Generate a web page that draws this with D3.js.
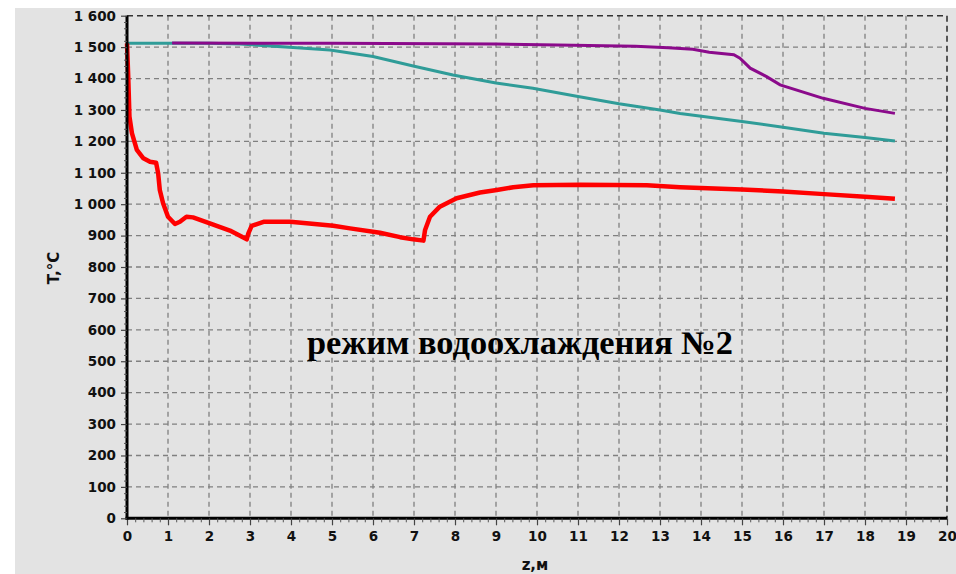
<!DOCTYPE html>
<html><head><meta charset="utf-8">
<script src="https://cdnjs.cloudflare.com/ajax/libs/d3/7.8.5/d3.min.js"></script>
<style>
html,body{margin:0;padding:0;background:#fff;}
svg{display:block;}
</style></head>
<body>
<script>
// ---- data ----
const xTicks = [0,1,2,3,4,5,6,7,8,9,10,11,12,13,14,15,16,17,18,19,20];
const yTicks = [0,100,200,300,400,500,600,700,800,900,1000,1100,1200,1300,1400,1500,1600];
const yTickLabels = ["0","100","200","300","400","500","600","700","800","900","1 000","1 100","1 200","1 300","1 400","1 500","1 600"];
const xTitle = "z,м";
const yTitle = "T,°C";
const annotation = "режим водоохлаждения №2";

const redZ = [0,0.03,0.06,0.12,0.24,0.4,0.56,0.71,0.76,0.80,0.88,1.0,1.17,1.29,1.45,1.61,2.02,2.51,2.92,2.96,3.04,3.33,3.98,4.38,5.03,5.44,6.17,6.66,6.98,7.23,7.27,7.39,7.63,8.04,8.61,9.02,9.42,9.91,11.05,12.68,13.49,15.0,16.0,17.0,18.0,18.73];
const redT = [1512,1406,1279,1226,1173,1146,1135,1132,1098,1045,1003,960,937,944,960,958,939,916,888,907,931,944,944,939,931,923,909,895,888,884,918,960,992,1019,1037,1045,1054,1060,1062,1060,1054,1047,1040,1032,1024,1017];

const tealZ = [0,2.0,2.76,4.05,4.95,6.0,6.98,7.95,9.0,9.9,11,12,13,13.49,15,16,17,18,18.73];
const tealT = [1512,1512,1510,1499,1491,1470,1440,1411,1386,1369,1343,1320,1300,1289,1263,1245,1226,1212,1201];

const purpleZ = [1.1,5,9,10.5,12.4,13.2,13.8,14.2,14.8,14.95,15.2,15.6,15.93,16.98,18.0,18.73];
const purpleT = [1513,1512,1510,1507,1503,1498,1493,1484,1476,1465,1433,1406,1380,1337,1305,1289];

// ---- layout ----
const W = 956, H = 574;
const x0 = 127, x1 = 947, yBot = 518.3, yTop = 15.7;
const svg = d3.select("body").append("svg").attr("width", W).attr("height", H);

svg.append("rect").attr("x",15).attr("y",8).attr("width",W-15).attr("height",H-8).attr("fill","#e3e3e3");

const x = d3.scaleLinear().domain([0,20]).range([x0,x1]);
const y = d3.scaleLinear().domain([0,1600]).range([yBot,yTop]);

const font = "'DejaVu Sans', Verdana, sans-serif";

// grid
const g = svg.append("g");
g.selectAll("line.vx").data(xTicks.filter(d=>d>0&&d<20)).enter().append("line")
  .attr("x1",d=>x(d)).attr("x2",d=>x(d)).attr("y1",yTop).attr("y2",yBot)
  .attr("stroke","#808080").attr("stroke-width",1.3).attr("stroke-dasharray","5,4");
g.selectAll("line.hy").data(yTicks.filter(d=>d>0&&d<1600)).enter().append("line")
  .attr("x1",x0).attr("x2",x1).attr("y1",d=>y(d)).attr("y2",d=>y(d))
  .attr("stroke","#808080").attr("stroke-width",1.3).attr("stroke-dasharray","5,4");
// top and right dashed borders
g.append("line").attr("x1",x0).attr("x2",x1).attr("y1",y(1600)).attr("y2",y(1600))
  .attr("stroke","#333").attr("stroke-width",1.6).attr("stroke-dasharray","6,4");
g.append("line").attr("x1",x(20)).attr("x2",x(20)).attr("y1",yTop).attr("y2",yBot)
  .attr("stroke","#333").attr("stroke-width",1.6).attr("stroke-dasharray","6,4");

// annotation
svg.append("text").attr("x",520).attr("y",354).attr("text-anchor","middle")
  .attr("font-family","'Liberation Serif','Times New Roman',serif").attr("font-weight","bold")
  .attr("font-size",33).attr("textLength",426).attr("lengthAdjust","spacingAndGlyphs")
  .attr("fill","#000").text(annotation);

// series
const line = d3.line().x(d=>x(d[0])).y(d=>y(d[1]));
svg.append("path").datum(d3.zip(tealZ,tealT)).attr("d",line).attr("fill","none")
  .attr("stroke","#2f9c98").attr("stroke-width",3);
svg.append("path").datum(d3.zip(purpleZ,purpleT)).attr("d",line).attr("fill","none")
  .attr("stroke","#8b0a8b").attr("stroke-width",3);
svg.append("path").datum(d3.zip(redZ,redT)).attr("d",line).attr("fill","none")
  .attr("stroke","#ff0000").attr("stroke-width",4.5).attr("stroke-linejoin","round");

// axes
const xAxis = d3.axisBottom(x).tickValues(xTicks).tickSize(7).tickPadding(6).tickFormat(d3.format("d"));
const xa = svg.append("g").attr("transform",`translate(0,${yBot})`).call(xAxis);
const xMinor = d3.axisBottom(x).tickValues(d3.range(0,100).map(i=>i*0.2).filter(v=>Math.abs(v-Math.round(v))>0.01)).tickSize(4).tickFormat("");
svg.append("g").attr("transform",`translate(0,${yBot})`).call(xMinor).call(s=>s.select(".domain").remove())
  .selectAll("line").attr("stroke","#555");

const yAxis = d3.axisLeft(y).tickValues(yTicks).tickSize(6).tickPadding(5).tickFormat((d,i)=>yTickLabels[i]);
const ya = svg.append("g").attr("transform",`translate(${x0},0)`).call(yAxis);
const yMinor = d3.axisLeft(y).tickValues(d3.range(0,80).map(i=>i*20).filter(v=>v%100!==0)).tickSize(3).tickFormat("");
svg.append("g").attr("transform",`translate(${x0},0)`).call(yMinor).call(s=>s.select(".domain").remove())
  .selectAll("line").attr("stroke","#555");

[xa,ya].forEach(a=>{
  a.select(".domain").attr("stroke","#000").attr("stroke-width",3);
  a.selectAll(".tick line").attr("stroke","#444").attr("stroke-width",1.2);
  a.selectAll("text").attr("font-family",font).attr("font-weight","bold").attr("font-size",13.5).attr("fill","#111");
});
ya.select(".domain").attr("d",`M0,${yBot+1.5}V${yTop}`);
xa.select(".domain").attr("d",`M${x0-1.5},0H${x1}`);

// titles
svg.append("text").attr("x",535).attr("y",570).attr("text-anchor","middle")
  .attr("font-family",font).attr("font-weight","bold").attr("font-size",15).attr("fill","#111").text(xTitle);
svg.append("text").attr("transform","translate(59,268) rotate(-90)").attr("text-anchor","middle")
  .attr("font-family",font).attr("font-weight","bold").attr("font-size",15).attr("fill","#111").text(yTitle);
</script>
</body></html>
